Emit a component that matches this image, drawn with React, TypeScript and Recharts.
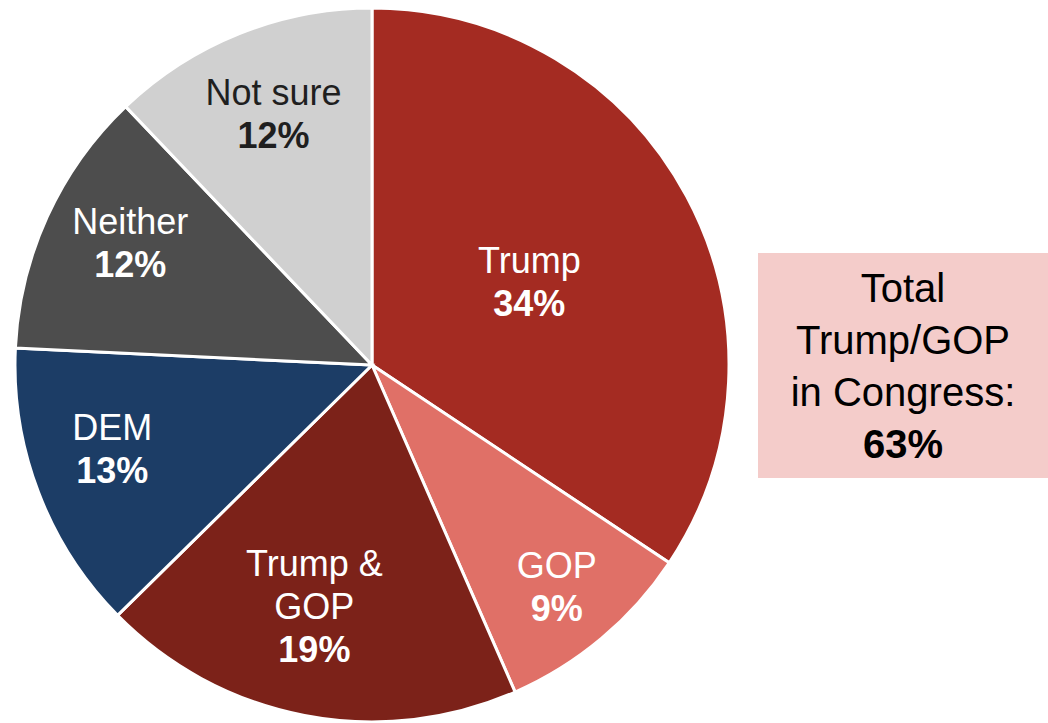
import React from "react"
import { PieChart, Pie, Cell } from "recharts"

// share of respondents, clockwise from 12 o'clock
const CATEGORIES = ["Trump", "GOP", "Trump &\nGOP", "DEM", "Neither", "Not sure"]
const VALUES = [34, 9, 19, 13, 12, 12]
const COLORS = ["#A42B22", "#E07067", "#7C2219", "#1C3D66", "#4D4D4D", "#D0D0D0"]
const TEXT_COLORS = ["#fff", "#fff", "#fff", "#fff", "#fff", "#1f1f1f"]
// label placement: fraction of radius along the mid angle, then a small nudge in px
const LABEL_RADIUS = [0.5, 0.81, 0.69, 0.77, 0.76, 0.75]
const LABEL_NUDGE = [[0, 1], [-1, 0], [-11, -1], [-3, -15], [5, -10], [1, -3]]

const BOX_LINES = ["Total", "Trump/GOP", "in Congress:"]
const BOX_TOTAL = "63%"

const data = CATEGORIES.map((name, i) => ({ name, value: VALUES[i] }))

const FONT = "'Liberation Sans', Arial, sans-serif"
const RAD = Math.PI / 180

function renderLabel(props: any) {
  const { cx, cy, midAngle, outerRadius, index } = props
  const r = outerRadius * LABEL_RADIUS[index]
  const x = cx + r * Math.cos(-midAngle * RAD) + LABEL_NUDGE[index][0]
  const y = cy + r * Math.sin(-midAngle * RAD) + LABEL_NUDGE[index][1]
  const lines = [...CATEGORIES[index].split("\n"), `${VALUES[index]}%`]
  const lineH = 43
  const top = y - ((lines.length - 1) * lineH) / 2
  return (
    <text
      x={x}
      y={top}
      textAnchor="middle"
      fill={TEXT_COLORS[index]}
      fontFamily={FONT}
      fontSize={36}
    >
      {lines.map((l, i) => (
        <tspan
          key={i}
          x={x}
          y={top + i * lineH + 13}
          fontWeight={i === lines.length - 1 ? "bold" : "normal"}
        >
          {l}
        </tspan>
      ))}
    </text>
  )
}

export default function App() {
  return (
    <div style={{ position: "absolute", left: 0, top: 0, width: 1048, height: 723, background: "#fff" }}>
      <PieChart width={1048} height={723} margin={{ top: 0, right: 0, bottom: 0, left: 0 }}>
        <Pie
          data={data}
          dataKey="value"
          nameKey="name"
          cx={372}
          cy={365}
          outerRadius={357}
          startAngle={90}
          endAngle={-270}
          stroke="#fff"
          strokeWidth={3}
          label={renderLabel}
          labelLine={false}
          isAnimationActive={false}
        >
          {data.map((d, i) => (
            <Cell key={d.name} fill={COLORS[i]} />
          ))}
        </Pie>
      </PieChart>
      <div
        style={{
          position: "absolute",
          left: 758,
          top: 253,
          width: 290,
          height: 225,
          background: "#F4CCCA",
          fontFamily: FONT,
          fontSize: 40,
          lineHeight: "52px",
          color: "#000",
          textAlign: "center",
          display: "flex",
          flexDirection: "column",
          justifyContent: "center",
        }}
      >
        {BOX_LINES.map((l) => (
          <div key={l}>{l}</div>
        ))}
        <div style={{ fontWeight: "bold" }}>{BOX_TOTAL}</div>
      </div>
    </div>
  )
}
